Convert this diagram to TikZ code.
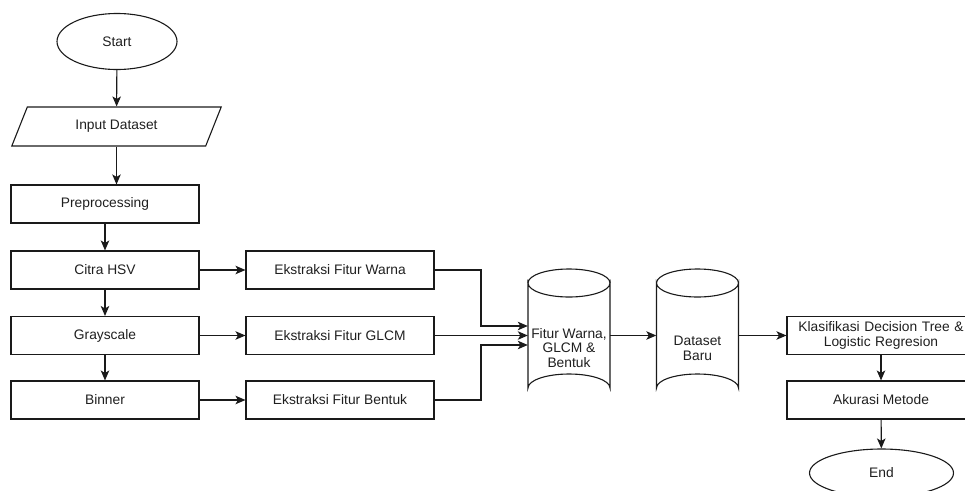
\documentclass[tikz,border=0pt]{standalone}
\usepackage{fontspec}
\setmainfont{Liberation Sans}
\usetikzlibrary{arrows.meta,shapes.geometric}
\definecolor{ln}{HTML}{1A1A1A}
\definecolor{tx}{HTML}{1F1F1F}
\begin{document}
\begin{tikzpicture}[x=1pt,y=-1pt,
  every node/.style={font=\fontsize{13.8}{14.5}\selectfont, text=tx},
  box/.style={draw=ln, line width=1.1pt, rectangle, minimum width=188pt, minimum height=38pt, inner sep=0pt, align=center},
  term/.style={draw=ln, line width=1.1pt, ellipse, minimum width=120pt, minimum height=56pt, inner sep=0pt},
  io/.style={draw=ln, line width=1.1pt, trapezium, trapezium left angle=60, trapezium right angle=120, trapezium stretches=true, minimum width=211pt, minimum height=39pt, inner sep=0pt},
  flow/.style={draw=ln, line width=1.1pt, -{Stealth[length=10pt,width=8.5pt,inset=2.5pt]}},
  hole/.style={minimum width=82pt, minimum height=133pt, inner sep=0pt, align=center}
]
\useasboundingbox (0,0) rectangle (965,490);
% left column
\node[term] (start) at (117,41.5) {Start};
\node[io] (input) at (116.5,126.5) {Input Dataset};
\node[box] (pre) at (105,204) {Preprocessing};
\node[box] (hsv) at (105,270) {Citra HSV};
\node[box] (gray) at (105,335.5) {Grayscale};
\node[box] (bin) at (105,400) {Binner};
% middle column
\node[box] (ew) at (340,270) {Ekstraksi Fitur Warna};
\node[box] (eg) at (340,335.5) {Ekstraksi Fitur GLCM};
\node[box] (eb) at (340,400) {Ekstraksi Fitur Bentuk};
% cylinders
\foreach \cx in {569, 697.5}{
  \draw[ln, line width=1.1pt, fill=white]
    (\cx-41,283) -- (\cx-41,388) arc[start angle=180, end angle=360, x radius=41, y radius=14]
    -- (\cx+41,283) arc[start angle=0, end angle=180, x radius=41, y radius=14] -- cycle;
  \draw[ln, line width=1.1pt] (\cx-41,283) arc[start angle=180, end angle=360, x radius=41, y radius=14];
}
\node[hole] (c1) at (569,335.5) {};
\node[hole] (c2) at (697.5,335.5) {};
\node[align=center] (c1t) at (569,348) {Fitur Warna,\\GLCM \&\\Bentuk};
\node[align=center] (c2t) at (697.5,348.5) {Dataset\\Baru};
% right column
\node[box, text width=186pt] (kl) at (881,335.5) {Klasifikasi Decision Tree \&\\Logistic Regresion};
\node[box] (ak) at (881,400) {Akurasi Metode};
\node[term, minimum width=144pt, minimum height=48pt] (end) at (881.5,473) {End};
% junction points
\coordinate (j1) at (481,326);
\coordinate (j3) at (481,345);
% connectors
\draw[flow] (start) -- (input);
\draw[flow] (input.south) -- (input.south |- pre.north);
\draw[flow] (pre) -- (hsv);
\draw[flow] (hsv) -- (gray);
\draw[flow] (gray) -- (bin);
\draw[flow] (hsv) -- (ew);
\draw[flow] (gray) -- (eg);
\draw[flow] (bin) -- (eb);
\draw[flow] (ew.east) -| (j1) -- (j1 -| c1.west);
\draw[flow] (eg.east) -- (c1.west);
\draw[flow] (eb.east) -| (j3) -- (j3 -| c1.west);
\draw[flow] (c1.east) -- (c2.west);
\draw[flow] (c2.east) -- (kl.west);
\draw[flow] (kl) -- (ak);
\draw[flow] (ak) -- (end);
\end{tikzpicture}
\end{document}
